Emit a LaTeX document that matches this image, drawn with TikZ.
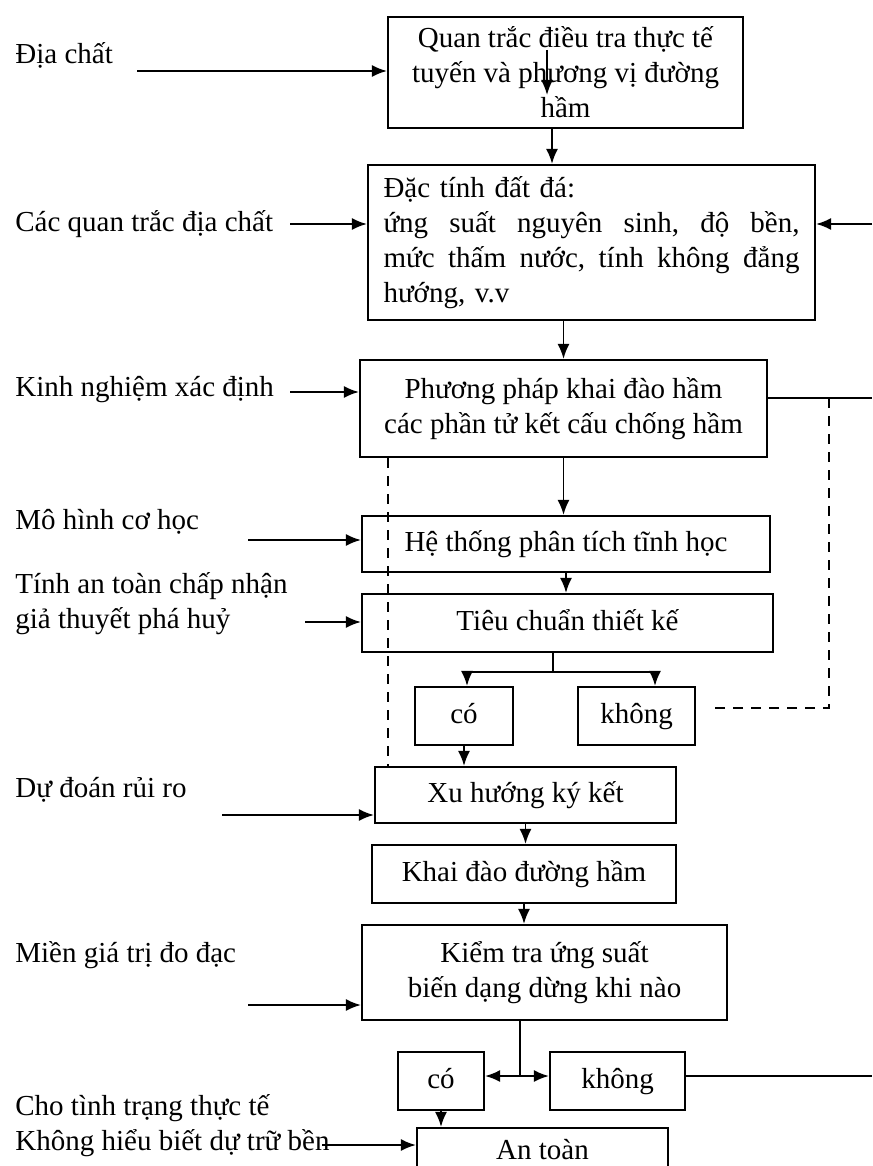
\documentclass[tikz,border=0pt]{standalone}
\usepackage{fontspec}
\setmainfont{Liberation Serif}
\usepackage{tikz}
\usetikzlibrary{arrows.meta}
\tikzset{>={Latex[length=7.5pt,width=6pt]}}
\tikzset{
  box/.style={draw, line width=1.1pt, inner sep=0pt, align=center},
  onebox/.style={box, text height=10pt, text depth=3pt},
  lbl/.style={anchor=west, inner sep=0pt, align=left},
  arr/.style={->, line width=0.9pt},
  link/.style={line width=0.9pt},
  dashlink/.style={line width=0.9pt, dash pattern=on 5pt off 4pt}
}

\begin{document}
\begin{tikzpicture}[x=0.5pt, y=-0.5pt, font=\fontsize{14.5}{17.5}\selectfont]
    \useasboundingbox (0,0) rectangle (872,1166);

    \node[box, minimum width=177.5pt, minimum height=55.5pt] (quan) at (565.5,72.5) {Quan trắc điều tra thực tế\\tuyến và phương vị đường\\hầm};
    \node[box, minimum width=223.5pt, minimum height=77.5pt, text width=208pt, align=left] (dactinh) at (591.5,242.5)
      {Đặc tính đất đá:\\
       ứng\hfill suất\hfill nguyên\hfill sinh,\hfill độ\hfill bền,\\
       mức\hfill thấm\hfill nước,\hfill tính\hfill không\hfill đẳng\\
       hướng, v.v};
    \node[box, minimum width=203.5pt, minimum height=48.5pt] (phuongphap) at (563.5,408.5) {Phương pháp khai đào hầm\\các phần tử kết cấu chống hầm};
    \node[onebox, minimum width=204pt, minimum height=28pt] (hethong) at (566,544) {Hệ thống phân tích tĩnh học};
    \node[onebox, minimum width=205.5pt, minimum height=29pt] (tieuchuan) at (567.5,623) {Tiêu chuẩn thiết kế};
    \node[onebox, minimum width=49pt, minimum height=29pt] (co1) at (464,716) {có};
    \node[onebox, minimum width=58.5pt, minimum height=29pt] (khong1) at (636.5,716) {không};
    \node[onebox, minimum width=150.5pt, minimum height=28pt] (xuhuong) at (525.5,795) {Xu hướng ký kết};
    \node[onebox, minimum width=152pt, minimum height=29pt] (khaidao) at (524,874) {Khai đào đường hầm};
    \node[box, minimum width=182.5pt, minimum height=47.5pt] (kiemtra) at (544.5,972.5) {Kiểm tra ứng suất\\biến dạng dừng khi nào};
    \node[onebox, minimum width=43pt, minimum height=29pt] (co2) at (441,1081) {có};
    \node[onebox, minimum width=67.5pt, minimum height=29pt] (khong2) at (617.5,1081) {không};
    \node[onebox, minimum width=125.5pt, minimum height=24pt] (antoan) at (542.5,1152) {An toàn};

    \node[lbl] (diachat) at (15,55) {Địa chất};
    \node[lbl] (cacquan) at (15,224) {Các quan trắc địa chất};
    \node[lbl] (kinhnghiem) at (15,390) {Kinh nghiệm xác định};
    \node[lbl] (mohinh) at (15,522) {Mô hình cơ học};
    \node[lbl] (tinhan) at (15,604) {Tính an toàn chấp nhận\\giả thuyết phá huỷ};
    \node[lbl] (dudoan) at (15,790) {Dự đoán rủi ro};
    \node[lbl] (mien) at (15,955) {Miền giá trị đo đạc};
    \node[lbl] (cho) at (15,1126) {Cho tình trạng thực tế\\Không hiểu biết dự trữ bền};

    \coordinate (in1) at (137,71);
    \coordinate (in2) at (290,224);
    \coordinate (in3) at (290,392);
    \coordinate (in4) at (248,540);
    \coordinate (in5) at (305,622);
    \coordinate (in6) at (222,815);
    \coordinate (in7) at (248,1005);
    \coordinate (in8) at (322,1145);
    \foreach \s/\t in {in1/quan, in2/dactinh, in3/phuongphap, in4/hethong, in5/tieuchuan, in6/xuhuong, in7/kiemtra, in8/antoan}
      \draw[arr] (\s) -- (\t.west |- \s);

    \coordinate (rt1) at (872,224);
    \coordinate (rt2) at (872,398);
    \coordinate (rt3) at (872,1076);
    \draw[arr] (rt1) -- (dactinh.east |- rt1);
    \draw[link] (phuongphap.east |- rt2) -- (rt2);
    \draw[link] (khong2.east |- rt3) -- (rt3);

    \coordinate (s1) at (547,50);
    \coordinate (s2) at (547,95);
    \draw[arr] (s1) -- (s2);

    \coordinate (c1) at (552,0);
    \draw[arr] (quan.south -| c1) -- (dactinh.north -| c1);
    \draw[arr] (dactinh.south -| phuongphap.north) -- (phuongphap.north);
    \draw[arr] (phuongphap.south) -- (hethong.north -| phuongphap.south);
    \draw[arr] (hethong.south) -- (tieuchuan.north -| hethong.south);

    \coordinate (b1) at (553,672);
    \coordinate (b2) at (467,672);
    \coordinate (b3) at (655,672);
    \draw[link] (tieuchuan.south -| b1) -- (b1);
    \draw[arr] (b1) -- (b2) -- (co1.north -| b2);
    \draw[arr] (b1) -- (b3) -- (khong1.north -| b3);

    \draw[arr] (co1.south) -- (xuhuong.north -| co1.south);
    \draw[arr] (xuhuong.south) -- (khaidao.north -| xuhuong.south);
    \draw[arr] (khaidao.south) -- (kiemtra.north -| khaidao.south);

    \coordinate (b4) at (520,1076);
    \draw[link] (kiemtra.south -| b4) -- (b4);
    \draw[arr] (b4) -- (co2.east |- b4);
    \draw[arr] (b4) -- (khong2.west |- b4);
    \draw[arr] (co2.south) -- (antoan.north -| co2.south);

    \begin{scope}[dashlink]
      \coordinate (d1) at (829,398);
      \coordinate (d2) at (829,708);
      \coordinate (d3) at (388,0);
      \draw (d1) -- (d2) -- ([xshift=6pt]khong1.east |- d2);
      \draw (phuongphap.south -| d3) -- (xuhuong.north -| d3);
    \end{scope}
  \end{tikzpicture}
\end{document}
